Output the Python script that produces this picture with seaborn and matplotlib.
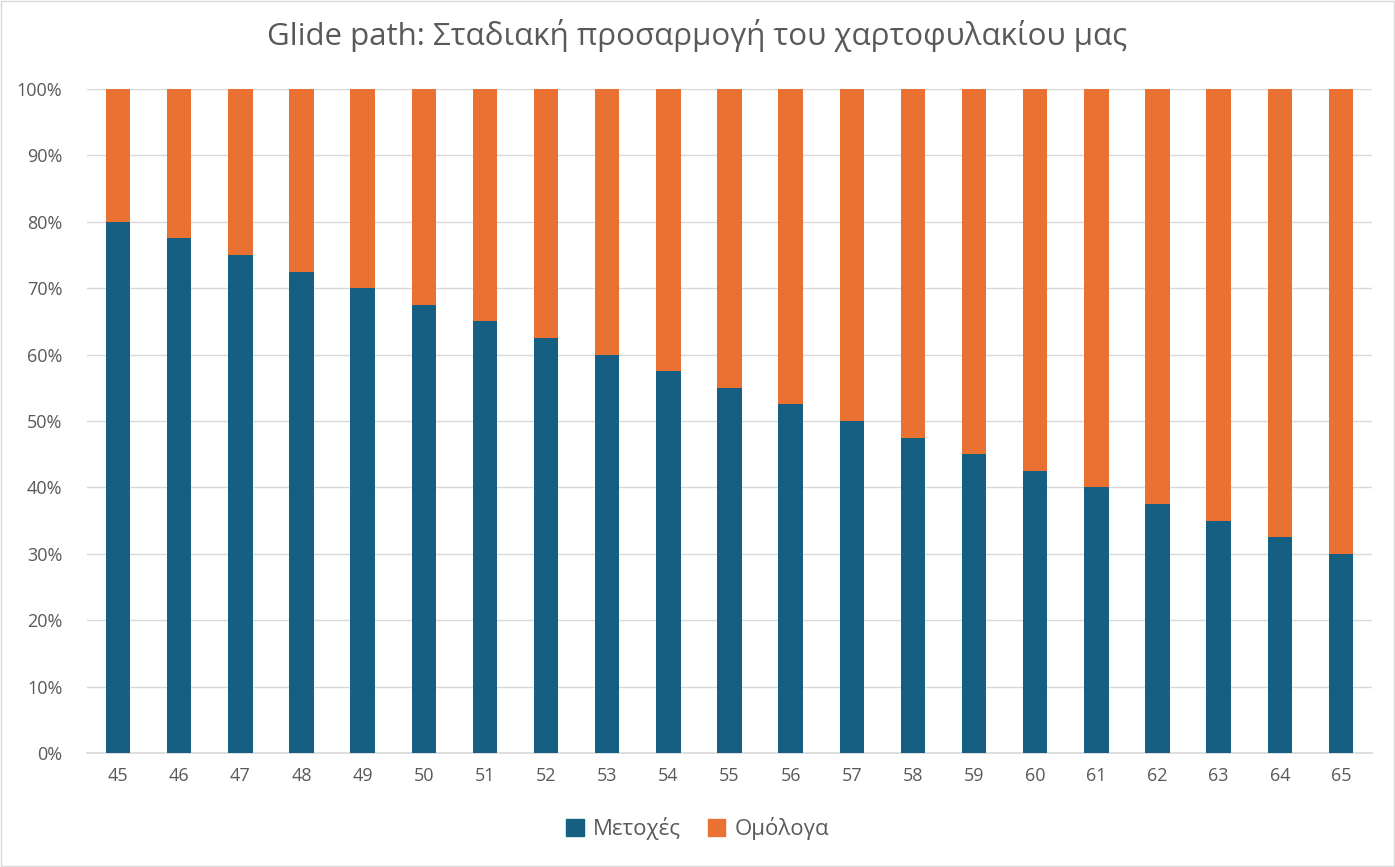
import pandas as pd
import matplotlib.pyplot as plt
import seaborn as sns
from matplotlib.patches import Patch

# Data
ages = [45, 46, 47, 48, 49, 50, 51, 52, 53, 54, 55, 56, 57, 58, 59, 60, 61, 62, 63, 64, 65]
stocks = [80, 77.5, 75, 72.5, 70, 67.5, 65, 62.5, 60, 57.5, 55, 52.5, 50, 47.5, 45, 42.5, 40, 37.5, 35, 32.5, 30]
bonds = [20, 22.5, 25, 27.5, 30, 32.5, 35, 37.5, 40, 42.5, 45, 47.5, 50, 52.5, 55, 57.5, 60, 62.5, 65, 67.5, 70]

df = pd.DataFrame({"Age": [str(a) for a in ages], "Stocks": stocks, "Bonds": bonds})
df["Total"] = df["Stocks"] + df["Bonds"]

blue = "#156082"
orange = "#E97132"
text_col = "#595959"

sns.set_theme(style="white")
plt.rcParams["font.family"] = ["Open Sans", "DejaVu Sans"]

fig = plt.figure(figsize=(13.95, 8.67), dpi=100)
ax = fig.add_axes([0.0627, 0.1315, 0.9205, 0.7658])

# stacked bars: full height orange first, blue on top
sns.barplot(data=df, x="Age", y="Total", color=orange, width=0.4, ax=ax, zorder=2,
            saturation=1, linewidth=0)
sns.barplot(data=df, x="Age", y="Stocks", color=blue, width=0.4, ax=ax, zorder=3,
            saturation=1, linewidth=0)

ax.set_ylim(0, 100)
ax.set_xlim(-0.5, len(ages) - 0.5)
ax.set_yticks(range(0, 101, 10))
ax.set_yticklabels([f"{v}%" for v in range(0, 101, 10)])
ax.yaxis.grid(True, color="#D9D9D9", linewidth=1, zorder=0)
ax.set_axisbelow(True)
ax.set_xlabel("")
ax.set_ylabel("")
for s in ["top", "right", "left"]:
    ax.spines[s].set_visible(False)
ax.spines["bottom"].set_color("#D9D9D9")
ax.tick_params(axis="both", colors=text_col, labelsize=13, length=0)
ax.tick_params(axis="y", pad=18)
ax.tick_params(axis="x", pad=10)

fig.suptitle("Glide path: Σταδιακή προσαρμογή του χαρτοφυλακίου μας",
             y=0.978, fontsize=22.5, color=text_col)

handles = [Patch(color=blue, label="Μετοχές"), Patch(color=orange, label="Ομόλογα")]
fig.legend(handles=handles, loc="lower center", bbox_to_anchor=(0.5, 0.008), ncol=2,
           frameon=False, fontsize=16, labelcolor=text_col, handlelength=0.8,
           handleheight=0.8, columnspacing=1.2, handletextpad=0.4)

# light border around the figure
fig.patches.append(plt.Rectangle((0.001, 0.001), 0.998, 0.998, transform=fig.transFigure,
                                 fill=False, edgecolor="#D9D9D9", linewidth=1))

fig.savefig("out.png", dpi=100)
